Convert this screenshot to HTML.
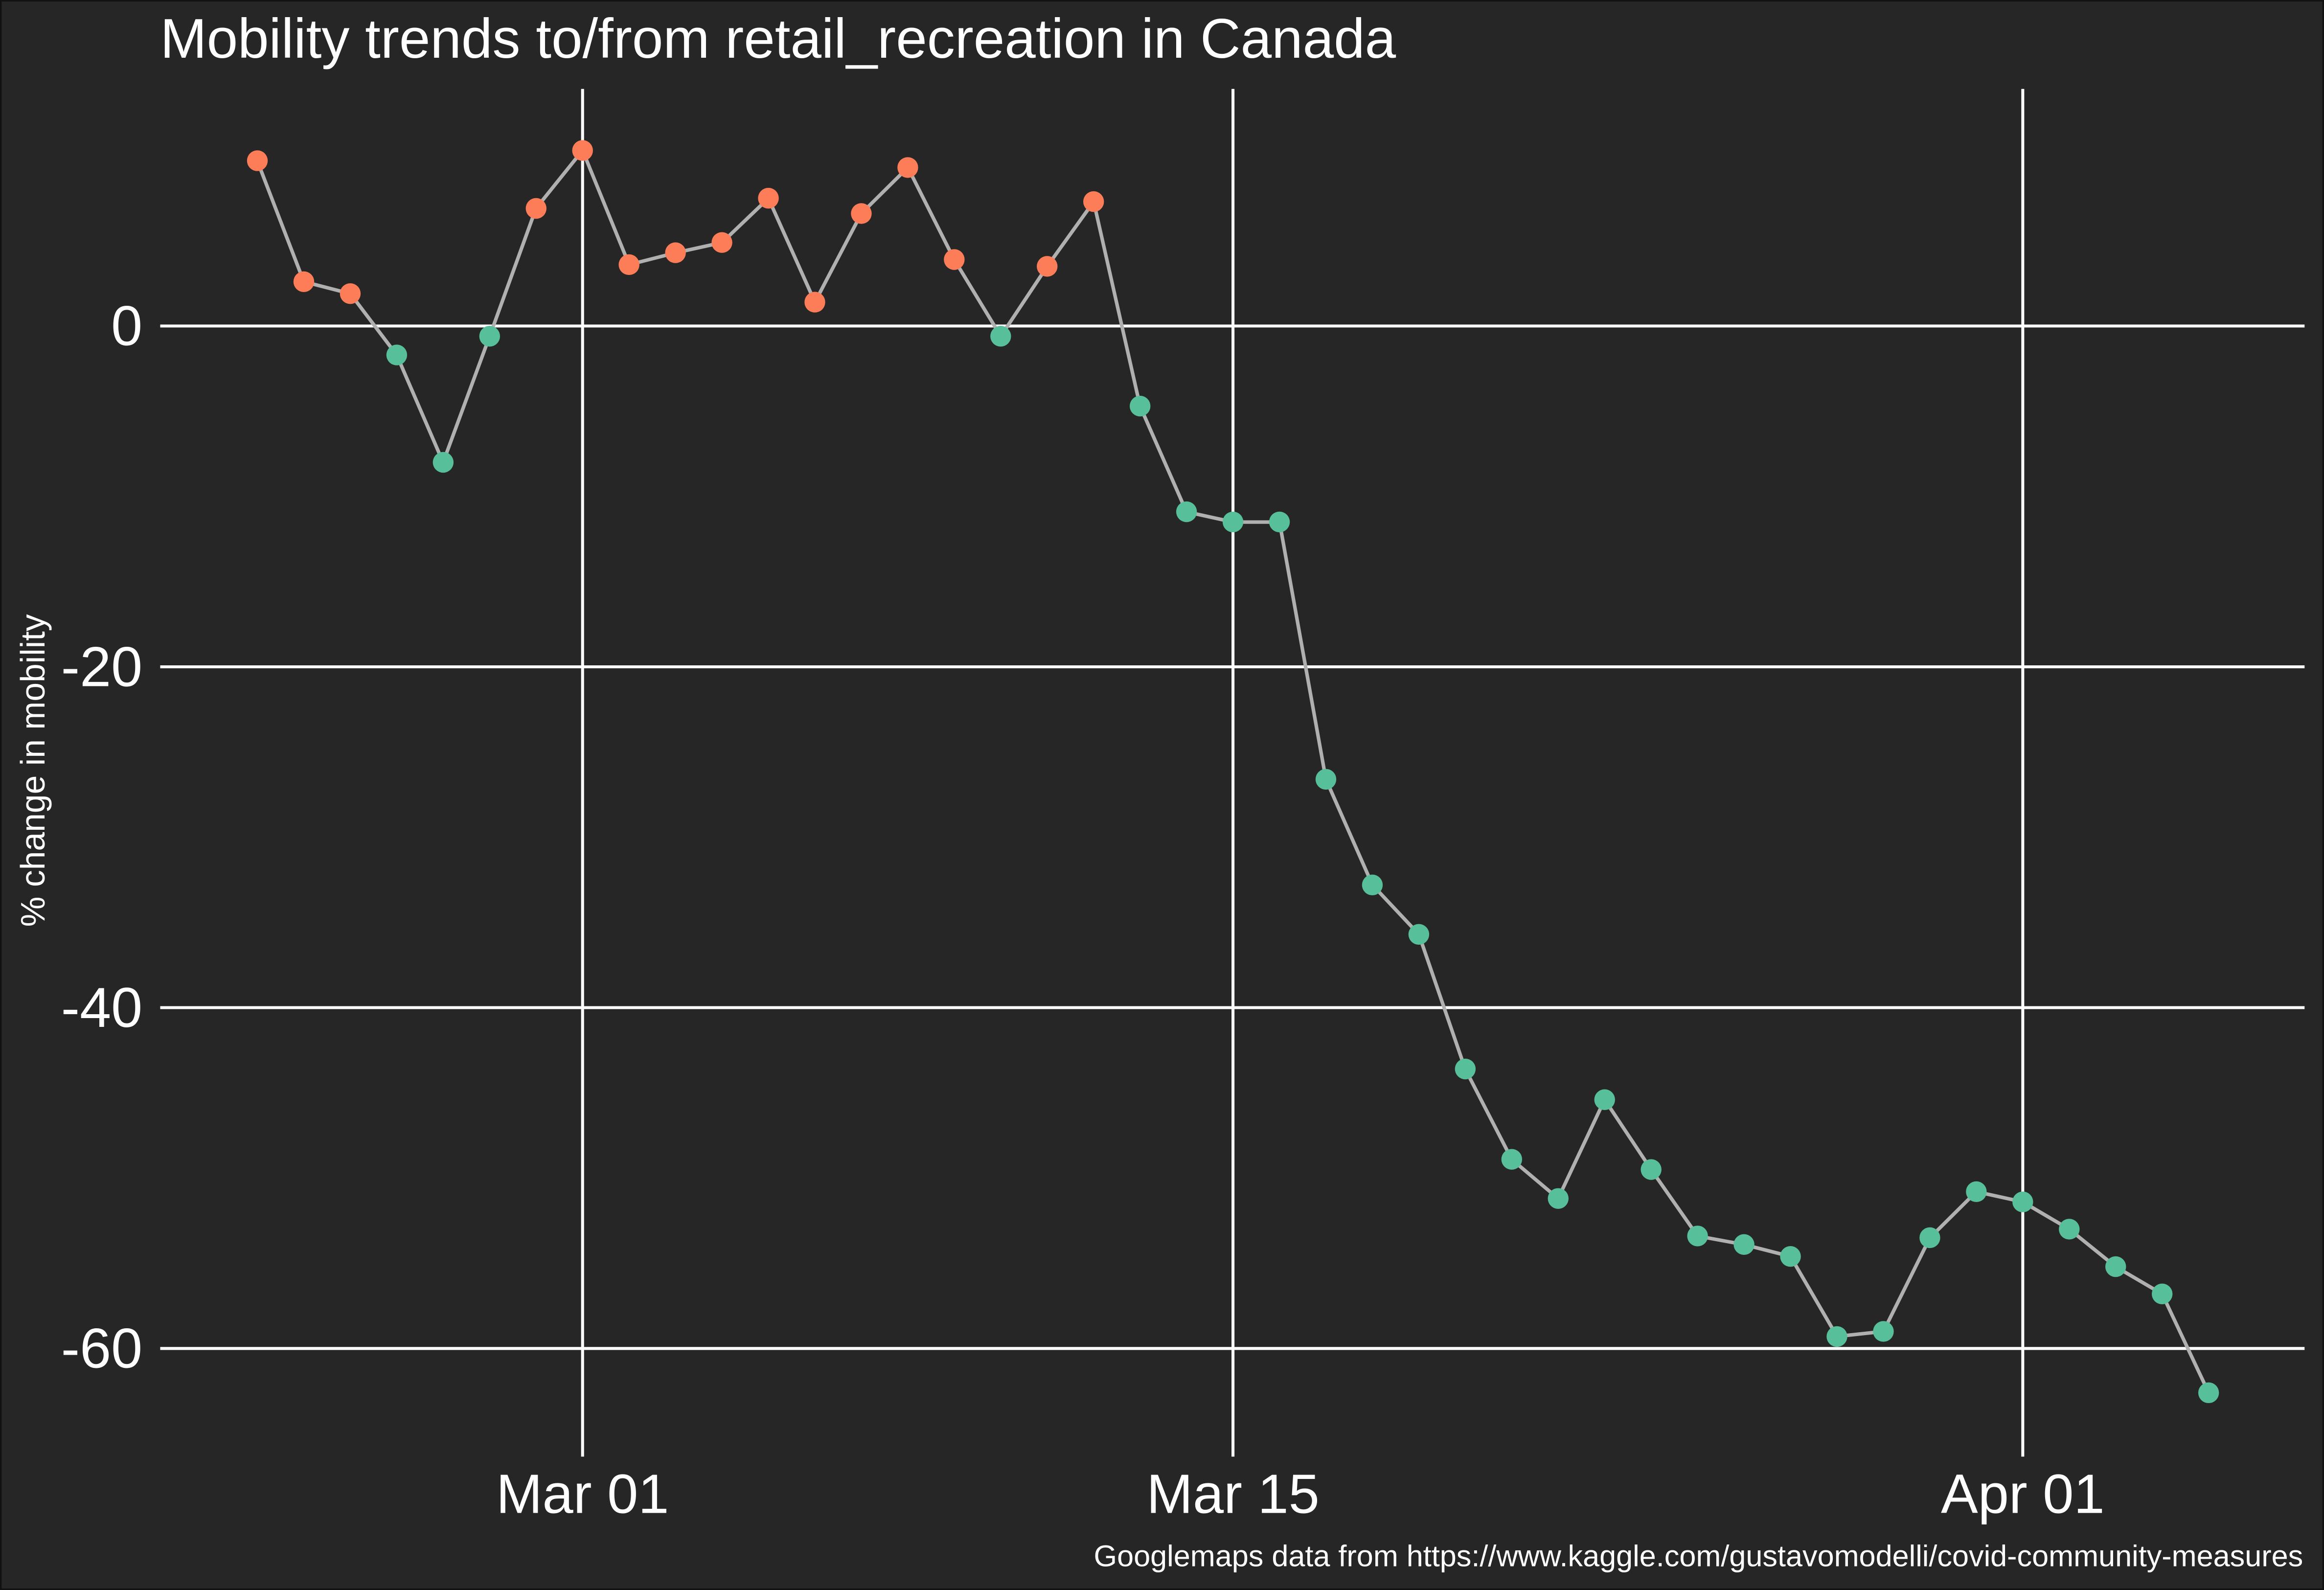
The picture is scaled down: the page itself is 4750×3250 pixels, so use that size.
<!DOCTYPE html>
<html><head><meta charset="utf-8"><style>
html,body{margin:0;padding:0;background:#262626;}
svg{display:block;}
text{font-family:"Liberation Sans",Arial,sans-serif;fill:#fff;}
</style></head><body>
<svg id="chart" width="4750" height="3250" viewBox="0 0 1568 1073" xmlns="http://www.w3.org/2000/svg">
<rect x="0" y="0" width="1568" height="1073" fill="#262626" stroke="#111" stroke-width="2"/>
<text x="108" y="39" font-size="37.7">Mobility trends to/from retail_recreation in Canada</text>
<text transform="translate(30,520) rotate(-90)" text-anchor="middle" font-size="23">% change in mobility</text>
<text x="1554" y="1057" text-anchor="end" font-size="20.2">Googlemaps data from https://www.kaggle.com/gustavomodelli/covid-community-measures</text>
<g id="grid"></g><g id="series"></g><g id="axes"></g>
</svg>
<script>
const dayOffsets = [-7,-6,-5,-4,-3,-2,-1,0,1,2,3,4,5,6,7,8,9,10,11,12,13,14,15,16,17,18,19,20,21,22,23,24,25,26,27,28,29,30,31,32,33,34,35];
const values = [9.7,2.6,1.9,-1.7,-8.0,-0.6,6.9,10.3,3.6,4.3,4.9,7.5,1.4,6.6,9.3,3.9,-0.6,3.5,7.3,-4.7,-10.9,-11.5,-11.5,-26.6,-32.8,-35.7,-43.6,-48.9,-51.2,-45.4,-49.5,-53.4,-53.9,-54.6,-59.3,-59.0,-53.5,-50.8,-51.4,-53.0,-55.2,-56.8,-62.6];
const yTicks = [0,-20,-40,-60];
const xTickDays = [0,14,31];
const xTickLabels = ["Mar 01","Mar 15","Apr 01"];
const NS="http://www.w3.org/2000/svg";
const xs = d => 393 + d*31.35;
const ys = v => 220 - v*11.5;
function mk(tag, attrs, parent){const e=document.createElementNS(NS,tag);for(const k in attrs)e.setAttribute(k,attrs[k]);parent.appendChild(e);return e;}
const grid=document.getElementById('grid'), axes=document.getElementById('axes'), series=document.getElementById('series');
yTicks.forEach(t=>{
  const l=mk('line',{x1:108,x2:1555,y1:ys(t),y2:ys(t),stroke:'#fff','stroke-width':2},grid);
  
  
  const tx=mk('text',{x:96,y:ys(t)+13,'text-anchor':'end','font-size':38},axes);
  tx.textContent=String(t);
  
  
});
xTickDays.forEach((d,i)=>{
  const l=mk('line',{x1:xs(d),x2:xs(d),y1:60,y2:983,stroke:'#fff','stroke-width':2},grid);
  
  
  const tx=mk('text',{x:xs(d),y:1021,'text-anchor':'middle','font-size':37.5},axes);
  tx.textContent=xTickLabels[i];
  
  
});
const pts=values.map((v,i)=>xs(dayOffsets[i]).toFixed(1)+','+ys(v).toFixed(1)).join(' ');
const pl=mk('polyline',{points:pts,fill:'none',stroke:'#b0b0b0','stroke-width':2.4},series);


values.forEach((v,i)=>{
  const c=mk('circle',{cx:xs(dayOffsets[i]),cy:ys(v),r:7,fill:v>0?'#fc7d58':'#57bf99'},series);
  
  
});
</script>
</body></html>
